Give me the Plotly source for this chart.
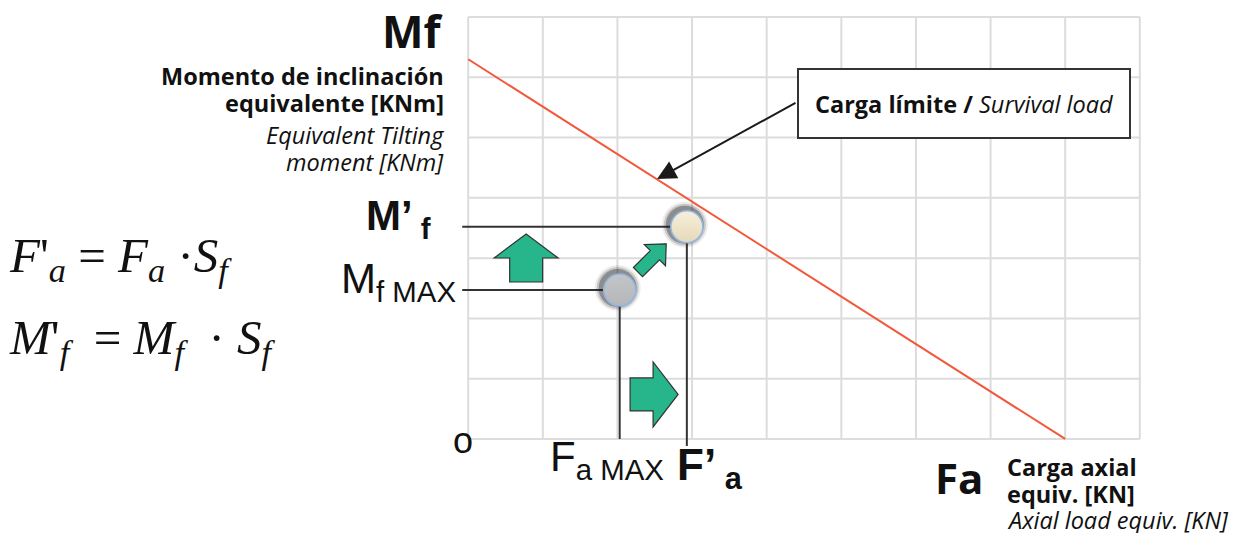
import math
import plotly.graph_objects as go

# --- data (grid units: Fa 0..9, Mf 0..7) ---
fa_limit = [0.0, 8.0]          # survival load line
mf_limit = [6.3, 0.0]

fa_max, mf_max = 2.03, 2.47      # working point (Fa MAX, Mf MAX)
fa_prime, mf_prime = 2.93, 3.52  # point after safety factor (F'a, M'f)

grid_x = list(range(0, 10))
grid_y = list(range(0, 8))

# --- screen pixel frame of the grid, used to place labels ---
W, H = 1239, 533
OFF = 8  # page body margin
GX0, GX1, GY0, GY1 = 468, 1140, 439, 17
XMIN, XMAX, YMIN, YMAX = -0.15, 9.15, -0.15, 7.1
kx = (GX1 - GX0) / 9
ky = (GY0 - GY1) / 7

L = GX0 - OFF + XMIN * kx
R = W - (GX1 - OFF + (XMAX - 9) * kx)
T = GY1 - OFF - (YMAX - 7) * ky
B = H - (GY0 - OFF - YMIN * ky)
PW, PH = W - L - R, H - T - B


def dx(p):
    return (p - GX0) / kx


def dy(p):
    return (GY0 - p) / ky


def ppx(p):
    return (p - OFF - L) / PW


def ppy(p):
    return 1 - (p - OFF - T) / PH


SANS = "Open Sans"
ARIAL = "Liberation Sans"
SERIF = "Liberation Serif"
GREEN = "#27b58b"
INK = "#333333"
GRID = "#dcdcdc"

fig = go.Figure()

# limit line
fig.add_trace(go.Scatter(x=fa_limit, y=mf_limit, mode="lines",
                         line=dict(color="#f2583a", width=2)))

# guide lines from the two points to the axes
x_stub = dx(462)
fig.add_trace(go.Scatter(x=[x_stub, fa_prime], y=[mf_prime, mf_prime], mode="lines",
                         line=dict(color=INK, width=2)))
fig.add_trace(go.Scatter(x=[x_stub, fa_max], y=[mf_max, mf_max], mode="lines",
                         line=dict(color=INK, width=2)))
fig.add_trace(go.Scatter(x=[fa_max, fa_max], y=[mf_max, 0], mode="lines",
                         line=dict(color=INK, width=2)))
fig.add_trace(go.Scatter(x=[fa_prime, fa_prime], y=[mf_prime, dy(446)], mode="lines",
                         line=dict(color=INK, width=2)))

# soft shadows behind the circles
for sz, op in [(46, 0.08), (42, 0.18), (38, 0.34)]:
    fig.add_trace(go.Scatter(
        x=[fa_max - 2 / kx, fa_prime - 2 / kx],
        y=[mf_max + 2 / ky, mf_prime + 2 / ky],
        mode="markers",
        marker=dict(size=sz, color=f"rgba(30,30,30,{op})", line=dict(width=0))))

fig.add_trace(go.Scatter(x=[fa_max], y=[mf_max], mode="markers",
                         marker=dict(size=32, color="#c3c5c9",
                                     gradient=dict(type="vertical", color="#b4b6ba"),
                                     line=dict(color="#8fb6e3", width=1.5))))
fig.add_trace(go.Scatter(x=[fa_prime], y=[mf_prime], mode="markers",
                         marker=dict(size=32, color="#f6efdc",
                                     gradient=dict(type="vertical", color="#e6d9b9"),
                                     line=dict(color="#8fb6e3", width=1.5))))

# grid drawn from the grid arrays so it stops at the frame
shapes = []
for gx in grid_x:
    shapes.append(dict(type="line", xref="x", yref="y", x0=gx, x1=gx,
                       y0=grid_y[0], y1=grid_y[-1], layer="below",
                       line=dict(color=GRID, width=2)))
for gy in grid_y:
    shapes.append(dict(type="line", xref="x", yref="y", x0=grid_x[0], x1=grid_x[-1],
                       y0=gy, y1=gy, layer="below",
                       line=dict(color=GRID, width=2)))


# green block arrows
def block_arrow(cx, cy, length, head, w_head, w_shaft, angle_deg):
    pts = [(length / 2, 0), (length / 2 - head, -w_head), (length / 2 - head, -w_shaft),
           (-length / 2, -w_shaft), (-length / 2, w_shaft), (length / 2 - head, w_shaft),
           (length / 2 - head, w_head)]
    a = math.radians(angle_deg)
    path = []
    for i, (u, v) in enumerate(pts):
        px = cx + u * math.cos(a) - v * math.sin(a)
        py = cy + u * math.sin(a) + v * math.cos(a)
        path.append(("M" if i == 0 else "L") + f"{dx(px):.4f},{dy(py):.4f}")
    return dict(type="path", path=" ".join(path) + " Z", xref="x", yref="y",
                fillcolor=GREEN, line=dict(color=INK, width=1.2), layer="above")


shapes += [
    block_arrow(526, 258, 48, 24, 32, 16.5, -90),
    block_arrow(654, 394.5, 48, 25, 32.5, 16.5, 0),
    block_arrow(652, 258, 40, 16, 15, 6.5, -45),
]

ann = []


def label(text, x, y, xanchor, yanchor, size, family=SANS, color="#111"):
    ann.append(dict(text=text, x=ppx(x), y=ppy(y), xref="paper", yref="paper",
                    showarrow=False, xanchor=xanchor, yanchor=yanchor, borderpad=0,
                    font=dict(family=family, size=size, color=color)))


label("<b>Mf</b>", 444, 31, "right", "middle", 44)
for txt, yy in [("<b>Momento de inclinación</b>", 76), ("<b>equivalente [KNm]</b>", 103),
                ("<i>Equivalent Tilting</i>", 135), ("<i>moment [KNm]</i>", 162)]:
    label(txt, 445, yy, "right", "middle", 23.5)

label("<b>M’<sub> f</sub></b>", 432, 219, "right", "middle", 42, family=ARIAL)
label("M<sub>f MAX</sub>", 457, 282, "right", "middle", 42, family=ARIAL)
label("o", 463, 441, "center", "middle", 36, family=ARIAL)
label("F<sub>a MAX</sub>", 549, 460, "left", "middle", 42, family=ARIAL)
label("<b>F’<sub> a</sub></b>", 676, 468, "left", "middle", 44, family=ARIAL)

label("<b>Fa</b>", 934, 478, "left", "middle", 42)
for txt, yy in [("<b>Carga axial</b>", 467), ("<b>equiv. [KN]</b>", 494),
                ("<i>Axial load equiv. [KN]</i>", 520)]:
    label(txt, 1006, yy, "left", "middle", 23.5)

label("<i>F</i>'<sub><i>a</i></sub> = <i>F</i><sub><i>a</i></sub> ·<i>S</i><sub><i>f</i></sub>",
      8, 259, "left", "middle", 49, family=SERIF)
label("<i>M</i>'<sub><i>f</i></sub>&nbsp; = <i>M</i><sub><i>f</i></sub>&nbsp; · "
      "<i>S</i><sub><i>f</i></sub>",
      8, 341, "left", "middle", 49, family=SERIF)

# survival load callout
ann.append(dict(text="<b>Carga límite /</b> <i>Survival load</i>",
                x=ppx(797), y=ppy(103.5), xref="paper", yref="paper", showarrow=False,
                xanchor="left", yanchor="middle", width=330, height=67,
                bgcolor="white", bordercolor=INK, borderwidth=2, borderpad=0,
                align="center", font=dict(family=SANS, size=23.5, color="#111")))
ann.append(dict(text="", x=dx(657), y=dy(179), ax=dx(797), ay=dy(102),
                xref="x", yref="y", axref="x", ayref="y", showarrow=True,
                arrowhead=2, arrowsize=1.9, arrowwidth=2, arrowcolor="#1a1a1a"))

fig.update_layout(
    width=W, height=H,
    margin=dict(l=L, r=R, t=T, b=B, pad=0),
    paper_bgcolor="white", plot_bgcolor="white",
    showlegend=False,
    shapes=shapes,
    annotations=ann,
)
fig.update_xaxes(range=[XMIN, XMAX], showticklabels=False, showgrid=False,
                 zeroline=False, showline=False, ticks="")
fig.update_yaxes(range=[YMIN, YMAX], showticklabels=False, showgrid=False,
                 zeroline=False, showline=False, ticks="")

fig.write_html("out.html")
